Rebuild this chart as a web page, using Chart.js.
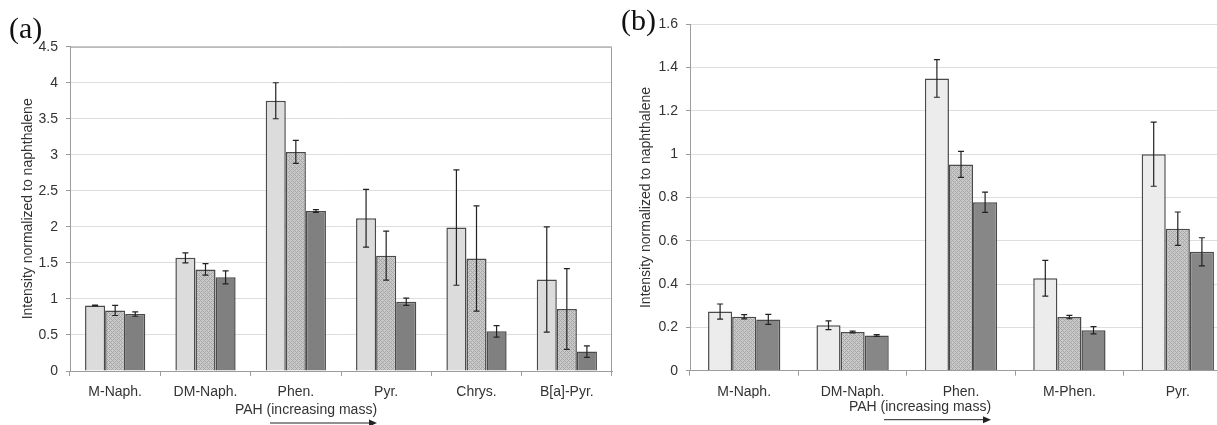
<!DOCTYPE html>
<html>
<head>
<meta charset="utf-8">
<script src="https://cdn.jsdelivr.net/npm/chart.js@4.4.0/dist/chart.umd.min.js"></script>
<style>
  html, body { margin: 0; padding: 0; background: #fff; overflow: hidden; }
  #wrap { position: relative; width: 1217px; height: 425px; overflow: hidden; }
  .panel { position: absolute; top: 0; height: 425px; }
  #boxA { left: 0; width: 616px; }
  #boxB { left: 608px; width: 624px; }
  .tag { position: absolute; font-family: 'Liberation Serif', 'Times New Roman', serif; font-size: 30px; line-height: 1; color: #111; }
</style>
</head>
<body>
<div id="wrap">
  <div class="panel" id="boxA"><canvas id="chartA" width="616" height="425"></canvas></div>
  <div class="panel" id="boxB"><canvas id="chartB" width="624" height="425"></canvas></div>
  <div class="tag" style="left:9px; top:13px;">(a)</div>
  <div class="tag" style="left:621px; top:5px;">(b)</div>
</div>
<script>
// panel (a) data
const catsA = ['M-Naph.', 'DM-Naph.', 'Phen.', 'Pyr.', 'Chrys.', 'B[a]-Pyr.'];
const lightA = [0.91, 1.57, 3.75, 2.12, 1.99, 1.27];
const lightErrA = [0.005, 0.07, 0.25, 0.40, 0.80, 0.73];
const midA = [0.84, 1.41, 3.04, 1.60, 1.56, 0.86];
const midErrA = [0.07, 0.08, 0.16, 0.34, 0.73, 0.56];
const darkA = [0.79, 1.30, 2.22, 0.96, 0.55, 0.27];
const darkErrA = [0.03, 0.09, 0.02, 0.05, 0.08, 0.08];
const yTicksA = [0, 0.5, 1, 1.5, 2, 2.5, 3, 3.5, 4, 4.5];

// panel (b) data
const catsB = ['M-Naph.', 'DM-Naph.', 'Phen.', 'M-Phen.', 'Pyr.'];
const lightB = [0.273, 0.21, 1.35, 0.427, 1.0];
const lightErrB = [0.035, 0.02, 0.087, 0.083, 0.148];
const midB = [0.249, 0.179, 0.953, 0.248, 0.656];
const midErrB = [0.01, 0.004, 0.06, 0.008, 0.077];
const darkB = [0.237, 0.163, 0.778, 0.187, 0.549];
const darkErrB = [0.023, 0.004, 0.047, 0.017, 0.065];
const yTicksB = [0, 0.2, 0.4, 0.6, 0.8, 1, 1.2, 1.4, 1.6];

const xTitle = 'PAH (increasing mass)';
const yTitle = 'Intensity normalized to naphthalene';

Chart.defaults.font.family = "'Liberation Sans', Arial, sans-serif";
Chart.defaults.font.size = 14;
Chart.defaults.color = '#333';

// dotted mesh fill for the middle series
function meshPattern() {
    const c = document.createElement('canvas');
    c.width = 4; c.height = 4;
    const g = c.getContext('2d');
    g.fillStyle = '#cacaca';
    g.fillRect(0, 0, 4, 4);
    g.fillStyle = '#a6a6a6';
    for (let x = 0; x < 4; x++) {
        for (let y = 0; y < 4; y++) {
            if ((x + y) % 4 === 0 || (x - y + 4) % 4 === 0) g.fillRect(x, y, 1, 1);
        }
    }
    return g.createPattern(c, 'repeat');
}

const errorBars = {
    id: 'errorBars',
    afterDatasetsDraw(chart) {
        const { ctx } = chart;
        const y = chart.scales.y;
        ctx.save();
        ctx.strokeStyle = '#222';
        ctx.lineWidth = 1.2;
        chart.data.datasets.forEach((ds, i) => {
            chart.getDatasetMeta(i).data.forEach((bar, j) => {
                const v = ds.data[j], e = ds.errors[j];
                const top = y.getPixelForValue(v + e);
                const bot = y.getPixelForValue(v - e);
                ctx.beginPath();
                ctx.moveTo(bar.x, top); ctx.lineTo(bar.x, bot);
                ctx.moveTo(bar.x - 3, top); ctx.lineTo(bar.x + 3, top);
                ctx.moveTo(bar.x - 3, bot); ctx.lineTo(bar.x + 3, bot);
                ctx.stroke();
            });
        });
        ctx.restore();
    }
};

// arrow under the x title, and optional frame on top/right of the plot
const extras = {
    id: 'extras',
    afterDraw(chart, args, opts) {
        const { ctx, chartArea } = chart;
        ctx.save();
        if (opts.frame) {
            ctx.strokeStyle = '#9c9c9c';
            ctx.lineWidth = 1;
            ctx.beginPath();
            ctx.moveTo(chartArea.left, chartArea.top + 0.5);
            ctx.lineTo(chartArea.right - 0.5, chartArea.top + 0.5);
            ctx.lineTo(chartArea.right - 0.5, chartArea.bottom);
            ctx.stroke();
        }
        const tb = chart.titleBlock;
        const cx = (tb.left + tb.right) / 2;
        const cy = tb.top + 8.4 + 13;
        ctx.strokeStyle = '#222';
        ctx.fillStyle = '#222';
        ctx.lineWidth = 1;
        ctx.beginPath();
        ctx.moveTo(cx - 36, cy); ctx.lineTo(cx + 64, cy);
        ctx.stroke();
        ctx.beginPath();
        ctx.moveTo(cx + 71, cy); ctx.lineTo(cx + 63, cy - 3.5); ctx.lineTo(cx + 63, cy + 3.5);
        ctx.closePath();
        ctx.fill();
        ctx.restore();
    }
};

function buildChart(id, p) {
    const mesh = meshPattern();
    new Chart(document.getElementById(id), {
        type: 'bar',
        data: {
            labels: p.cats,
            datasets: [
                { data: p.light, errors: p.lightErr, backgroundColor: p.lightColor },
                { data: p.mid, errors: p.midErr, backgroundColor: mesh },
                { data: p.dark, errors: p.darkErr, backgroundColor: p.darkColor }
            ].map(d => Object.assign(d, {
                borderColor: '#4a4a4a', borderWidth: 1.5,
                categoryPercentage: 0.667, barPercentage: 1.0
            }))
        },
        options: {
            responsive: false,
            animation: false,
            layout: { padding: { top: p.padTop, right: p.padRight, left: 0, bottom: 0 } },
            scales: {
                x: {
                    afterFit: ax => { ax.height = p.xHeight; },
                    ticks: { padding: 7.6, autoSkip: false, maxRotation: 0, color: '#333' },
                    grid: { drawOnChartArea: false, drawTicks: true, tickLength: 5, color: '#9c9c9c', offset: true },
                    border: { color: '#9c9c9c' }
                },
                y: {
                    min: 0,
                    max: p.yTicks[p.yTicks.length - 1],
                    afterBuildTicks: ax => { ax.ticks = p.yTicks.map(v => ({ value: v })); },
                    afterFit: ax => { ax.width = p.yWidth; },
                    ticks: { padding: 8, color: '#333', callback: v => String(v) },
                    grid: { color: '#dedede', tickColor: '#9c9c9c', tickLength: 4 },
                    border: { color: '#9c9c9c' },
                    title: {
                        display: true, text: yTitle, color: '#333',
                        font: { size: 14 }, padding: { top: p.yTitlePad, bottom: 0 }
                    }
                }
            },
            plugins: {
                legend: { display: false },
                tooltip: { enabled: false },
                title: {
                    display: true, position: 'bottom', text: xTitle, color: '#333',
                    font: { size: 14, weight: 'normal' },
                    padding: { top: 0, bottom: p.titlePadBottom }
                },
                extras: { frame: p.frame }
            }
        },
        plugins: [errorBars, extras]
    });
}

buildChart('chartA', {
    cats: catsA, light: lightA, lightErr: lightErrA, mid: midA, midErr: midErrA,
    dark: darkA, darkErr: darkErrA, yTicks: yTicksA,
    lightColor: '#dcdcdc', darkColor: '#808080',
    padTop: 46.7, padRight: 4, xHeight: 30.6, yWidth: 70, yTitlePad: 20,
    titlePadBottom: 6.6, frame: true
});

buildChart('chartB', {
    cats: catsB, light: lightB, lightErr: lightErrB, mid: midB, midErr: midErrB,
    dark: darkB, darkErr: darkErrB, yTicks: yTicksB,
    lightColor: '#ececec', darkColor: '#878787',
    padTop: 24.3, padRight: 0, xHeight: 27.6, yWidth: 82, yTitlePad: 29.6,
    titlePadBottom: 9.9, frame: false
});
</script>
</body>
</html>
